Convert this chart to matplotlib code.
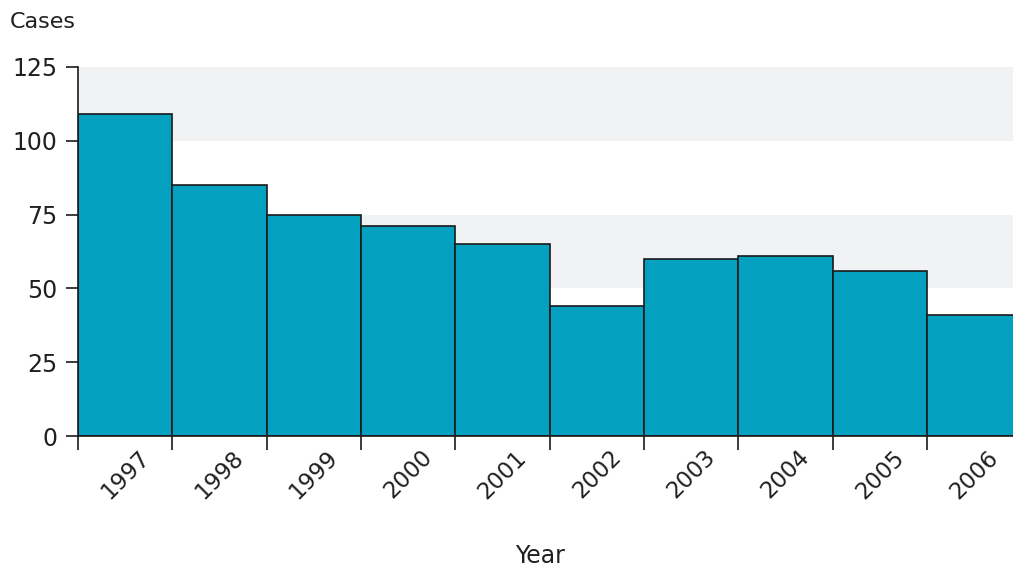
import numpy as np
import matplotlib.pyplot as plt

years = ['1997', '1998', '1999', '2000', '2001', '2002', '2003', '2004', '2005', '2006']
cases = [109, 85, 75, 71, 65, 44, 60, 61, 56, 41]
y_ticks = [0, 25, 50, 75, 100, 125]

text_color = '#231f20'
bar_color = '#03a0c0'

fig = plt.figure(figsize=(10.13, 5.69), dpi=100)
ax = fig.add_axes([78 / 1013, 133 / 569, 1 - 78 / 1013, 369 / 569])

# shaded bands behind the bars
ax.axhspan(50, 75, color='#f1f2f4', zorder=0, lw=0)
ax.axhspan(100, 125, color='#f1f2f4', zorder=0, lw=0)

x = np.arange(len(years))
ax.bar(x, cases, width=1, align='edge', color=bar_color,
       edgecolor='#1a1a1a', linewidth=1.2, zorder=2)

ax.set_xlim(0, 9.91)
ax.set_ylim(0, 125)

# major ticks at bar edges, labels at bar centers
ax.set_xticks(np.arange(len(years)))
ax.set_xticklabels([])
ax.set_xticks(x + 0.5, minor=True)
ax.set_xticklabels(years, minor=True, rotation=45, ha='center', va='top',
                   fontsize=16.5, color=text_color)
ax.tick_params(axis='x', which='minor', length=0, pad=7)
ax.tick_params(axis='x', which='major', length=10, width=1.2, color='#1a1a1a')

ax.set_yticks(y_ticks)
ax.set_yticklabels([str(v) for v in y_ticks], fontsize=17, color=text_color)
ax.tick_params(axis='y', length=9, width=1.2, color='#1a1a1a', pad=6)

for s in ['top', 'right']:
    ax.spines[s].set_visible(False)
ax.spines['left'].set_linewidth(1.2)
ax.spines['bottom'].set_linewidth(1.2)
ax.spines['left'].set_color('#1a1a1a')
ax.spines['bottom'].set_color('#1a1a1a')

fig.text(10 / 1013, 1 - 22 / 569, 'Cases', fontsize=16, color=text_color,
         ha='left', va='center')
fig.text(540 / 1013, 1 - 556 / 569, 'Year', fontsize=17, color=text_color,
         ha='center', va='center')

fig.savefig('out.png', dpi=100)
